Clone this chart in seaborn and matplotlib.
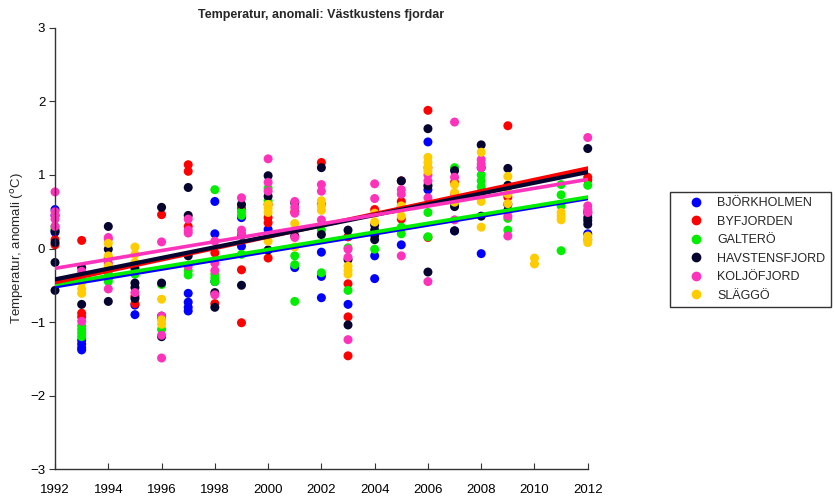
import numpy as np
import pandas as pd
import seaborn as sns
import matplotlib
matplotlib.use('Agg')
import matplotlib.pyplot as plt

# Station names and colours
stations = ['BJÖRKHOLMEN', 'BYFJORDEN', 'GALTERÖ', 'HAVSTENSFJORD', 'KOLJÖFJORD', 'SLÄGGÖ']
colors = ['#0000ff', '#ff0000', '#00ee00', '#050530', '#ff33bb', '#ffcc00']

# anomalies per year
bjorkholmen = {1992: [0.53, 0.45, 0.22], 1993: [-1.25, -1.3, -1.35, -1.38], 1994: [-0.4],
               1995: [-0.77, -0.9], 1996: [-0.95], 1997: [-0.61, -0.73, -0.8, -0.85],
               1998: [0.64, 0.2, -0.45], 1999: [0.42, 0.03], 2000: [0.26], 2001: [-0.26],
               2002: [-0.05, -0.38, -0.67], 2003: [0.16, -0.76], 2004: [-0.1, -0.41],
               2005: [0.05], 2006: [1.45, 0.8], 2007: [0.24], 2008: [1.1, -0.07],
               2009: [0.6], 2012: [0.5, 0.2]}
byfjorden = {1992: [0.12, 0.05], 1993: [0.11, -0.88, -0.93], 1994: [-0.3], 1995: [-0.65, -0.75],
             1996: [0.46], 1997: [1.14, 1.05, 0.3], 1998: [-0.06, -0.75], 1999: [0.55, -0.29, -1.01],
             2000: [0.6, 0.42, 0.35, -0.13], 2001: [0.5], 2002: [1.17, 0.6],
             2003: [0.16, -0.48, -0.93, -1.46], 2004: [0.53, 0.2], 2005: [0.92, 0.64, 0.4],
             2006: [1.88, 0.15], 2007: [0.9], 2008: [0.76], 2009: [1.67, 0.84, 0.7],
             2012: [0.97, 0.93, 0.48]}
galtero = {1992: [0.3, 0.26], 1993: [-1.05, -1.1, -1.15, -1.2], 1994: [-0.35, -0.4, -0.45],
           1995: [-0.35], 1996: [-0.49, -1.1], 1997: [-0.3, -0.36], 1998: [0.8, -0.35, -0.4, -0.45],
           1999: [0.5, 0.45, -0.08], 2000: [0.82, 0.65], 2001: [-0.1, -0.22, -0.72],
           2002: [0.25, -0.33], 2003: [0.01, -0.57], 2004: [-0.01], 2005: [0.29, 0.2],
           2006: [0.87, 0.49, 0.16], 2007: [1.1, 0.6], 2008: [1.0, 0.92, 0.84],
           2009: [0.41, 0.25], 2011: [0.87, 0.73, 0.58, -0.03], 2012: [0.86]}
havstensfjord = {1992: [0.24, 0.08, -0.19, -0.57], 1993: [-0.26, -0.76],
                 1994: [0.3, -0.01, -0.13, -0.72], 1995: [-0.27, -0.47, -0.53, -0.68],
                 1996: [0.56, -0.47, -0.92, -1.2], 1997: [0.83, 0.45, -0.1], 1998: [-0.6, -0.8],
                 1999: [0.6, 0.18, -0.5], 2000: [0.99, 0.71, -0.02], 2001: [0.62, 0.17],
                 2002: [1.1, 0.19], 2003: [0.25, -0.15, -1.04], 2004: [0.32, 0.25, 0.18, 0.12],
                 2005: [0.92, 0.55], 2006: [1.63, 0.85, -0.32], 2007: [1.06, 0.57, 0.24],
                 2008: [1.41, 0.44], 2009: [1.09, 0.86, 0.52], 2012: [1.36, 0.42, 0.38, 0.33]}
koljofjord = {1992: [0.77, 0.5, 0.45, 0.4, 0.3], 1993: [-0.31, -0.99], 1994: [0.15, 0.13, -0.2, -0.55],
              1995: [-0.6], 1996: [0.09, -0.92, -1.18, -1.49], 1997: [0.4, 0.25, 0.21, -0.24],
              1998: [0.1, -0.2, -0.3, -0.63], 1999: [0.69, 0.25, 0.2], 2000: [1.22, 0.9, 0.78],
              2001: [0.64, 0.56, 0.48, 0.15], 2002: [0.87, 0.78, 0.39], 2003: [-0.01, -0.12, -1.24],
              2004: [0.88, 0.68], 2005: [0.8, 0.74, 0.57, -0.1], 2006: [1.1, 1.0, 0.92, 0.69, -0.45],
              2007: [1.72, 0.97, 0.74, 0.39], 2008: [1.21, 1.15, 1.1, 0.72], 2009: [0.44, 0.17],
              2012: [1.51, 0.58, 0.53, 0.49, 0.12]}
slaggo = {1993: [-0.46, -0.55, -0.61], 1994: [0.07, -0.1, -0.24, -0.27], 1995: [0.02, -0.08, -0.19],
          1996: [-0.69, -0.97, -1.03], 2000: [0.6, 0.55, 0.49, 0.1], 2001: [0.34, 0.02],
          2002: [0.65, 0.58, 0.52], 2003: [-0.24, -0.3, -0.35], 2004: [0.48, 0.36],
          2005: [0.58, 0.44], 2006: [1.24, 1.17, 1.1, 1.05], 2007: [0.87, 0.76, 0.63],
          2008: [1.31, 0.64, 0.29], 2009: [0.98, 0.74, 0.61], 2010: [-0.13, -0.21],
          2011: [0.49, 0.44, 0.39], 2012: [0.17, 0.12, 0.08]}

# linear trend per station, value at 1992 and 2012
trend_years = [1992, 2012]
trend_start = [-0.52, -0.46, -0.49, -0.42, -0.27, None]
trend_end = [0.68, 1.09, 0.70, 1.04, 0.94, None]

rows = []
for name, d in zip(stations, [bjorkholmen, byfjorden, galtero, havstensfjord, koljofjord, slaggo]):
    for yr, vals in d.items():
        for v in vals:
            rows.append((name, yr, v))
df = pd.DataFrame(rows, columns=['station', 'year', 'anomaly'])

sns.set_style('ticks')
plt.rcParams['font.family'] = ['Liberation Sans', 'DejaVu Sans']

fig = plt.figure(figsize=(8.35, 4.98), dpi=100)
ax = fig.add_axes([0.0659, 0.0582, 0.638, 0.8856])

palette = dict(zip(stations, colors))
sns.scatterplot(data=df, x='year', y='anomaly', hue='station', hue_order=stations,
                palette=palette, s=42, linewidth=0, ax=ax, legend=False, zorder=2,
                clip_on=False)

# trend lines: red under black, blue under green
tr = pd.DataFrame([(s, y, v) for s, a, b in zip(stations, trend_start, trend_end)
                   if a is not None for y, v in zip(trend_years, [a, b])],
                  columns=['station', 'year', 'anomaly'])
for s in ['BJÖRKHOLMEN', 'GALTERÖ', 'BYFJORDEN', 'HAVSTENSFJORD', 'KOLJÖFJORD']:
    sub = tr[tr.station == s]
    lw = 3.0 if s in ('HAVSTENSFJORD', 'BYFJORDEN') else 2.6
    sns.lineplot(data=sub, x='year', y='anomaly', color=palette[s],
                 linewidth=lw, ax=ax, zorder=3)

ax.set_xlim(1992, 2012)
ax.set_ylim(-3, 3)
ax.set_xticks(range(1992, 2013, 2))
ax.set_yticks(range(-3, 4))
ax.set_yticklabels(['\u22123', '\u22122', '\u22121', '0', '1', '2', '3'])
ax.tick_params(axis='x', direction='in', length=4, pad=11, labelsize=9.5,
               colors='#333333', labelcolor='black')
ax.tick_params(axis='y', direction='out', length=4, pad=3, labelsize=9.5,
               colors='#333333', labelcolor='black')
ax.set_xlabel('')
ax.set_ylabel('Temperatur, anomali ($^{\\mathrm{o}}$C)', fontsize=9.5, labelpad=3)
ax.set_title('Temperatur, anomali: Västkustens fjordar', fontsize=9, fontweight='bold', pad=7)
for sp in ['top', 'right']:
    ax.spines[sp].set_visible(False)
for sp in ['left', 'bottom']:
    ax.spines[sp].set_color('#333333')
    ax.spines[sp].set_linewidth(1)

handles = [plt.Line2D([], [], marker='o', linestyle='', color=c, markersize=6) for c in colors]
leg = fig.legend(handles, stations, loc='upper left', bbox_to_anchor=(0.795, 0.628),
                 frameon=True, fancybox=False, fontsize=9, handletextpad=0.1,
                 borderpad=0.45, labelspacing=0.52, handlelength=3.2)
leg.get_frame().set_edgecolor('black')
leg.get_frame().set_linewidth(1)

fig.savefig('out.png', dpi=100)
